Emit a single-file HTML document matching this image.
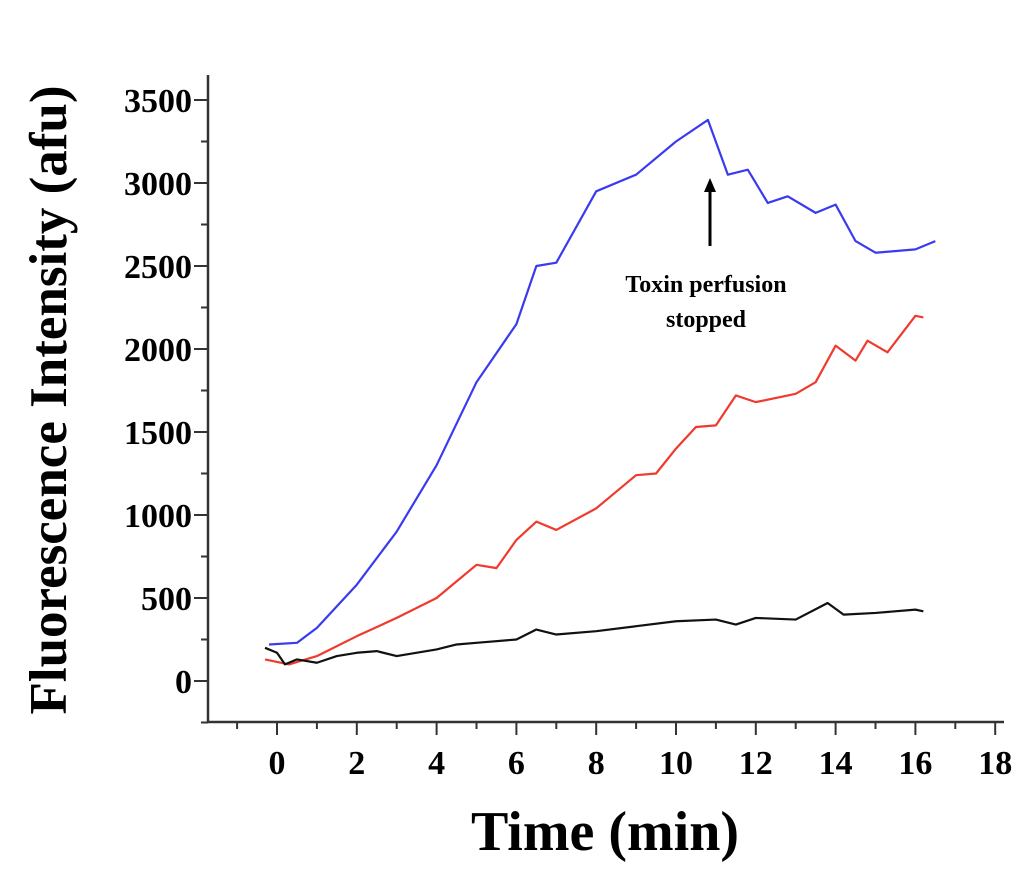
<!DOCTYPE html>
<html><head><meta charset="utf-8"><style>
body{margin:0;background:#fff}
svg{display:block;font-family:"Liberation Serif",serif;font-weight:bold}
</style></head><body>
<svg id="chart" width="1024" height="875" viewBox="0 0 1024 875">
<g id="axes"></g>
<g id="series"></g>
<text transform="translate(66,400) rotate(-90)" text-anchor="middle" font-size="53">Fluorescence Intensity (afu)</text>
<text x="605" y="850" text-anchor="middle" font-size="56">Time (min)</text>
<g>
<line x1="710" y1="246" x2="710" y2="188" stroke="#000" stroke-width="3"/>
<polygon points="710,178 704,192 716,192" fill="#000"/>
<text x="706" y="292" text-anchor="middle" font-size="24">Toxin perfusion</text>
<text x="706" y="327" text-anchor="middle" font-size="24">stopped</text>
</g>
</svg>
<script>
const xTicks=[0,2,4,6,8,10,12,14,16,18];
const yTicks=[0,500,1000,1500,2000,2500,3000,3500];
const blueT=[-0.2,0.5,1,2,3,4,5,6,6.5,7,8,9,10,10.8,11.3,11.8,12.3,12.8,13.5,14,14.5,15,16,16.5];
const blueV=[220,230,320,580,900,1300,1800,2150,2500,2520,2950,3050,3250,3380,3050,3080,2880,2920,2820,2870,2650,2580,2600,2650];
const redT=[-0.3,0.3,1,2,3,4,4.5,5,5.5,6,6.5,7,8,9,9.5,10,10.5,11,11.5,12,13,13.5,14,14.5,14.8,15.3,16,16.2];
const redV=[130,100,150,270,380,500,600,700,680,850,960,910,1040,1240,1250,1400,1530,1540,1720,1680,1730,1800,2020,1930,2050,1980,2200,2190];
const blackT=[-0.3,0,0.2,0.5,1,1.5,2,2.5,3,4,4.5,5,6,6.5,7,8,9,10,11,11.5,12,13,13.8,14.2,15,16,16.2];
const blackV=[200,170,100,130,110,150,170,180,150,190,220,230,250,310,280,300,330,360,370,340,380,370,470,400,410,430,420];
const X=t=>277+39.9*t, Y=v=>681-v*0.166;
const NS="http://www.w3.org/2000/svg";
const ax=document.getElementById('axes'), se=document.getElementById('series');
function mk(tag,attrs,parent){const e=document.createElementNS(NS,tag);for(const k in attrs)e.setAttribute(k,attrs[k]);parent.appendChild(e);return e;}
let l=mk('line',{x1:208,y1:75,x2:208,y2:723,stroke:'#333','stroke-width':2.5},ax);


l=mk('line',{x1:207,y1:722,x2:1004,y2:722,stroke:'#333','stroke-width':2.5},ax);


for(let t=-1;t<=18;t++){const major=t%2===0;mk('line',{x1:X(t),y1:722,x2:X(t),y2:722+(major?13:7),stroke:'#333','stroke-width':2},ax);}
xTicks.forEach(t=>{const e=mk('text',{x:X(t),y:774,'text-anchor':'middle','font-size':34},ax);e.textContent=t;

});
for(let v=-250;v<=3500;v+=250){const major=v%500===0;mk('line',{x1:208-(major?14:7),y1:Y(v),x2:208,y2:Y(v),stroke:'#333','stroke-width':2},ax);}
yTicks.forEach(v=>{const e=mk('text',{x:192,y:Y(v)+12,'text-anchor':'end','font-size':34},ax);e.textContent=v;

});
function line(T,V,color,name){const p=mk('polyline',{points:T.map((t,i)=>X(t)+','+Y(V[i])).join(' '),fill:'none',stroke:color,'stroke-width':2.2,'stroke-linejoin':'round'},se);

}
line(redT,redV,'#f03a2e','red-series');
line(blackT,blackV,'#111','black-series');
line(blueT,blueV,'#3a3af0','blue-series');
</script>
</body></html>
